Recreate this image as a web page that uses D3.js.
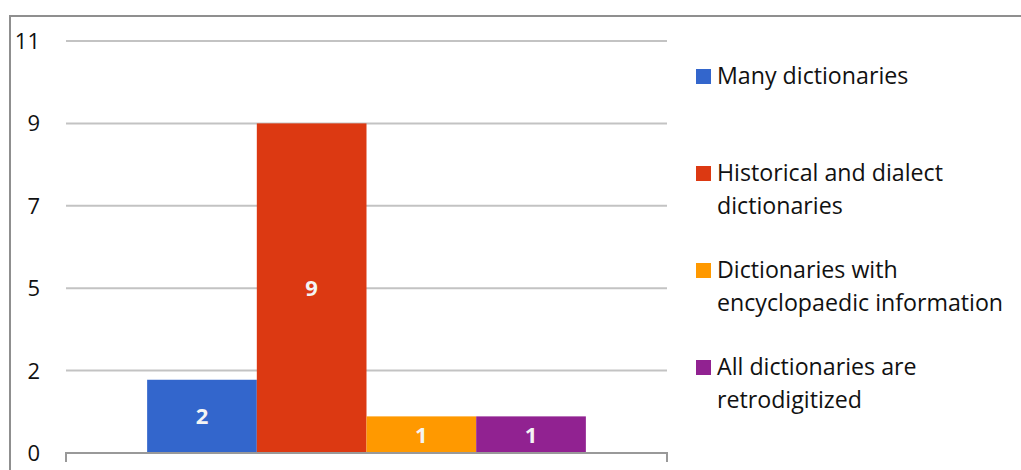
<!DOCTYPE html>
<html>
<head>
<meta charset="utf-8">
<script src="https://cdn.jsdelivr.net/npm/d3@7/dist/d3.min.js"></script>
<style>
  html, body { margin: 0; padding: 0; background: #ffffff; }
  svg { display: block; }
  text { font-family: "Open Sans", Lato, sans-serif; }
</style>
</head>
<body>
<svg id="chart" width="1021" height="470"></svg>
<script>
// Survey answers: one group of four bars
const categories = ["Answers"];
const seriesNames = [
  "Many dictionaries",
  "Historical and dialect dictionaries",
  "Dictionaries with encyclopaedic information",
  "All dictionaries are retrodigitized"
];
const seriesValues = [2, 9, 1, 1];
const seriesColors = ["#3366cc", "#dc3912", "#ff9900", "#912291"];
// Legend text is wrapped onto two lines where needed
const legendLines = [
  ["Many dictionaries"],
  ["Historical and dialect", "dictionaries"],
  ["Dictionaries with", "encyclopaedic information"],
  ["All dictionaries are", "retrodigitized"]
];
// Gridlines fall on quarter steps of 9; labels are rounded
const tickValues = [0, 2.25, 4.5, 6.75, 9, 11.25];
const tickLabels = ["0", "2", "5", "7", "9", "11"];

const svg = d3.select("#chart");
const plot = { left: 66, right: 667, top: 41, bottom: 453 };

// Outer frame (right and bottom edges run past the view)
svg.append("rect")
  .attr("x", 10).attr("y", 16)
  .attr("width", 1100).attr("height", 500)
  .attr("fill", "none")
  .attr("stroke", "#8f8f8f")
  .attr("stroke-width", 2);

const y = d3.scaleLinear()
  .domain([0, d3.max(tickValues)])
  .range([plot.bottom, plot.top]);

const x0 = d3.scaleBand()
  .domain(categories)
  .range([plot.left, plot.right])
  .paddingInner(0.27)
  .paddingOuter(0.135);

const x1 = d3.scaleBand()
  .domain(seriesNames)
  .range([0, x0.bandwidth()])
  .padding(0);

// Gridlines
svg.append("g")
  .selectAll("line")
  .data(tickValues.filter(v => v > 0))
  .join("line")
  .attr("x1", plot.left).attr("x2", plot.right)
  .attr("y1", d => y(d)).attr("y2", d => y(d))
  .attr("stroke", "#c3c3c3")
  .attr("stroke-width", 2);

// Y tick labels
svg.append("g")
  .selectAll("text")
  .data(tickValues)
  .join("text")
  .attr("x", 40)
  .attr("y", d => y(d))
  .attr("dy", "0.36em")
  .attr("text-anchor", "end")
  .attr("font-size", 22)
  .attr("fill", "#111")
  .text((d, i) => tickLabels[i]);

// Bars
const group = svg.append("g")
  .selectAll("g")
  .data(categories)
  .join("g")
  .attr("transform", d => `translate(${x0(d)},0)`);

const bars = seriesNames.map((name, i) => ({ name, value: seriesValues[i], color: seriesColors[i] }));

group.selectAll("rect")
  .data(bars)
  .join("rect")
  .attr("x", d => x1(d.name))
  .attr("y", d => y(d.value))
  .attr("width", x1.bandwidth())
  .attr("height", d => y(0) - y(d.value))
  .attr("fill", d => d.color);

group.selectAll("text")
  .data(bars)
  .join("text")
  .attr("x", d => x1(d.name) + x1.bandwidth() / 2)
  .attr("y", d => (y(d.value) + y(0)) / 2)
  .attr("dy", "0.36em")
  .attr("text-anchor", "middle")
  .attr("font-size", 22)
  .attr("font-weight", "bold")
  .attr("fill", "#f4f4f4")
  .text(d => d3.format("d")(d.value));

// Baseline axis with end ticks
const base = svg.append("g").attr("stroke", "#999999").attr("stroke-width", 2).attr("fill", "none");
base.append("path")
  .attr("d", `M${plot.left},462V${y(0)}H${plot.right}V462`);

// Legend
const legend = svg.append("g").attr("transform", "translate(696,0)");
const legendItem = legend.selectAll("g")
  .data(bars)
  .join("g")
  .attr("transform", (d, i) => `translate(0,${84 + i * 97})`);

legendItem.append("rect")
  .attr("x", 0).attr("y", -15)
  .attr("width", 15).attr("height", 15)
  .attr("fill", d => d.color);

legendItem.append("text")
  .attr("x", 21)
  .attr("font-size", 23.2)
  .attr("fill", "#111")
  .selectAll("tspan")
  .data((d, i) => legendLines[i])
  .join("tspan")
  .attr("x", 21)
  .attr("dy", (d, j) => j === 0 ? 0 : 32.5)
  .text(d => d);
</script>
</body>
</html>
